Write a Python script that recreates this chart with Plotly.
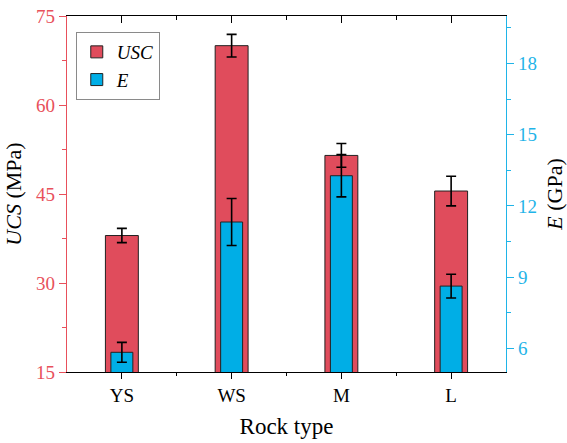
import plotly.graph_objects as go

rock_types = ["YS", "WS", "M", "L"]
ucs_values = [38.0, 70.0, 51.5, 45.5]
ucs_errors = [1.2, 1.9, 2.0, 2.5]
e_values = [5.83, 11.32, 13.27, 8.62]
e_errors = [0.42, 0.99, 0.89, 0.50]

left_ticks = [15, 30, 45, 60, 75]
left_minor = [22.5, 37.5, 52.5, 67.5]
right_ticks = [6, 9, 12, 15, 18]
right_minor = [7.5, 10.5, 13.5, 16.5, 19.5]

RED = "#E04C5C"
BLUE = "#00AEE6"
RED_AX = "#E8505B"
BLUE_AX = "#1FB4E8"
FONT = "Liberation Serif, Times New Roman, serif"

fig = go.Figure()
fig.add_trace(go.Bar(
    x=rock_types, y=ucs_values, width=0.3, name="<i>USC</i>",
    marker=dict(color=RED, line=dict(color="#222222", width=1)),
    error_y=dict(type="data", array=ucs_errors, color="black", thickness=1.6, width=5),
    yaxis="y", xaxis="x",
))
fig.add_trace(go.Bar(
    x=rock_types, y=e_values, width=0.2, name="<i>E</i>",
    marker=dict(color=BLUE, line=dict(color="#222222", width=1)),
    error_y=dict(type="data", array=e_errors, color="black", thickness=1.6, width=5),
    yaxis="y2", xaxis="x",
))
fig.add_trace(go.Scatter(x=rock_types, y=ucs_values, xaxis="x2", yaxis="y",
                         mode="markers", marker=dict(opacity=0), showlegend=False,
                         hoverinfo="skip"))

fig.update_layout(
    width=567, height=443,
    margin=dict(l=67, r=61, t=16, b=71),
    paper_bgcolor="white", plot_bgcolor="white",
    barmode="overlay",
    font=dict(family=FONT, size=19, color="black"),
    showlegend=True,
    legend=dict(x=0.02, y=0.955, xanchor="left", yanchor="top",
                bordercolor="#8a8a8a", borderwidth=1, bgcolor="white",
                font=dict(family=FONT, size=19), itemwidth=30),
    xaxis=dict(
        type="category", range=[-0.5, 3.5], automargin=False,
        showline=True, linecolor="black", linewidth=1.3,
        ticks="outside", ticklen=6, tickwidth=1.3, tickcolor="black",
        minor=dict(ticks="outside", ticklen=3, tickwidth=1.3, tickcolor="black",
                   tickvals=[0.5, 1.5, 2.5]),
        title=dict(text="Rock type", font=dict(size=23), standoff=12),
        tickfont=dict(size=19), showgrid=False, zeroline=False,
    ),
    xaxis2=dict(
        type="category", range=[-0.5, 3.5], overlaying="x", side="top", anchor="y",
        automargin=False,
        showline=True, linecolor="black", linewidth=1.3,
        ticks="inside", ticklen=7, tickwidth=1.3, tickcolor="black",
        minor=dict(ticks="inside", ticklen=4, tickwidth=1.3, tickcolor="black",
                   tickvals=[0.5, 1.5, 2.5]),
        showticklabels=False, showgrid=False, zeroline=False,
    ),
    yaxis=dict(
        range=[15, 75], tickvals=left_ticks, automargin=False,
        showline=True, linecolor=RED_AX, linewidth=1.3,
        ticks="outside", ticklen=7, tickwidth=1.3, tickcolor=RED_AX,
        minor=dict(ticks="outside", ticklen=4, tickwidth=1.3, tickcolor=RED_AX,
                   tickvals=left_minor),
        tickfont=dict(color=RED_AX, size=19),
        title=dict(text="<i>UCS</i> (MPa)", font=dict(size=22, color="black"), standoff=8),
        showgrid=False, zeroline=False,
    ),
    yaxis2=dict(
        range=[5, 20], tickvals=right_ticks, overlaying="y", side="right", anchor="x",
        automargin=False,
        showline=True, linecolor=BLUE_AX, linewidth=1.3,
        ticks="outside", ticklen=7, tickwidth=1.3, tickcolor=BLUE_AX,
        minor=dict(ticks="outside", ticklen=4, tickwidth=1.3, tickcolor=BLUE_AX,
                   tickvals=right_minor),
        tickfont=dict(color=BLUE_AX, size=19),
        title=dict(text="<i>E</i> (GPa)", font=dict(size=22, color="black"), standoff=12),
        showgrid=False, zeroline=False,
    ),
)

fig.write_html("out.html", config={"displayModeBar": False},
               post_script="document.body.style.margin='0';")
